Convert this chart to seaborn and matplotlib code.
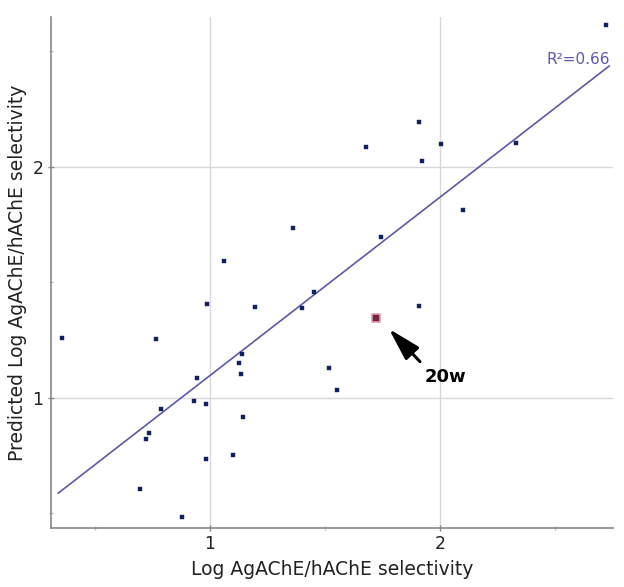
import matplotlib
matplotlib.use('Agg')
import matplotlib.pyplot as plt
import seaborn as sns
import pandas as pd
import numpy as np

# Values.
log_selectivity = [0.357, 0.764, 0.987, 1.196, 1.400, 1.452, 1.139, 1.128, 1.136, 0.942,
                   0.932, 0.981, 0.788, 1.142, 0.733, 0.723, 1.100, 0.981, 0.696, 0.880,
                   1.362, 1.060, 2.720, 1.909, 1.680, 2.003, 1.922, 2.332, 2.101, 1.743,
                   1.907, 1.517, 1.554]
predicted = [1.258, 1.254, 1.406, 1.395, 1.388, 1.460, 1.190, 1.152, 1.105, 1.085,
             0.988, 0.975, 0.951, 0.919, 0.850, 0.823, 0.753, 0.737, 0.606, 0.484,
             1.735, 1.594, 2.613, 2.195, 2.087, 2.101, 2.027, 2.104, 1.814, 1.697,
             1.400, 1.131, 1.036]
highlight_x = [1.722]
highlight_y = [1.346]
highlight_label = '20w'
fit_slope = 0.772
fit_intercept = 0.325
r2_label = 'R²=0.66'

df = pd.DataFrame({'x': log_selectivity, 'y': predicted})
fit_x = np.array([min(log_selectivity) - 0.017, max(log_selectivity) + 0.016])
fit = pd.DataFrame({'x': fit_x, 'y': fit_intercept + fit_slope * fit_x})

sns.set_style('white')
plt.rcParams['font.family'] = 'DejaVu Sans'
plt.rcParams['xtick.bottom'] = True
plt.rcParams['ytick.left'] = True

fig = plt.figure(figsize=(6.24, 5.87), dpi=100)
ax = fig.add_axes([51 / 624, 1 - 528 / 587, 562 / 624, 511 / 587])

ax.grid(True, which='major', color='#d8d8d8', linewidth=1)
ax.set_axisbelow(True)

sns.lineplot(data=fit, x='x', y='y', color='#5a5aa8', linewidth=1.2, ax=ax)
sns.scatterplot(data=df, x='x', y='y', marker='s', s=9, color='#102060',
                edgecolor='#102060', linewidth=0.3, ax=ax, zorder=3)
sns.scatterplot(x=highlight_x, y=highlight_y, marker='s', s=30, color='#7a2040',
                edgecolor='#e0a0b0', linewidth=1.2, ax=ax, zorder=4)

# Arrow pointing at the highlighted compound, and its label.
ax.annotate('', xy=(1.778, 1.299), xytext=(1.913, 1.157),
            arrowprops=dict(arrowstyle='-|>,head_length=1.0,head_width=0.28',
                            color='black', lw=2.2, mutation_scale=20,
                            shrinkA=0, shrinkB=0))
ax.text(2.025, 1.092, highlight_label, fontsize=13, fontweight='bold',
        ha='center', va='center', color='black')

ax.text(2.74, 2.465, r2_label, color='#5a5aa8', fontsize=11, ha='right', va='center')

ax.set_xlim(0.309, 2.752)
ax.set_ylim(0.437, 2.649)
ax.set_xticks([1, 2])
ax.set_yticks([1, 2])
ax.set_xticks([0.5, 1.5, 2.5], minor=True)
ax.set_yticks([0.5, 1.5, 2.5], minor=True)
ax.tick_params(which='major', length=4, width=1, color='#888888', labelsize=12.5,
               direction='inout', labelcolor='#222222')
ax.tick_params(which='minor', length=3, width=1, color='#bbbbbb', direction='inout')
ax.tick_params(axis='x', pad=3)

for side in ['top', 'right']:
    ax.spines[side].set_visible(False)
for side in ['left', 'bottom']:
    ax.spines[side].set_color('#888888')
    ax.spines[side].set_linewidth(1.2)

ax.set_xlabel('Log AgAChE/hAChE selectivity', fontsize=13.5, labelpad=5, color='#222222')
ax.set_ylabel('Predicted Log AgAChE/hAChE selectivity', fontsize=13.5, labelpad=4,
              color='#222222')

fig.savefig('out.png', dpi=100)
